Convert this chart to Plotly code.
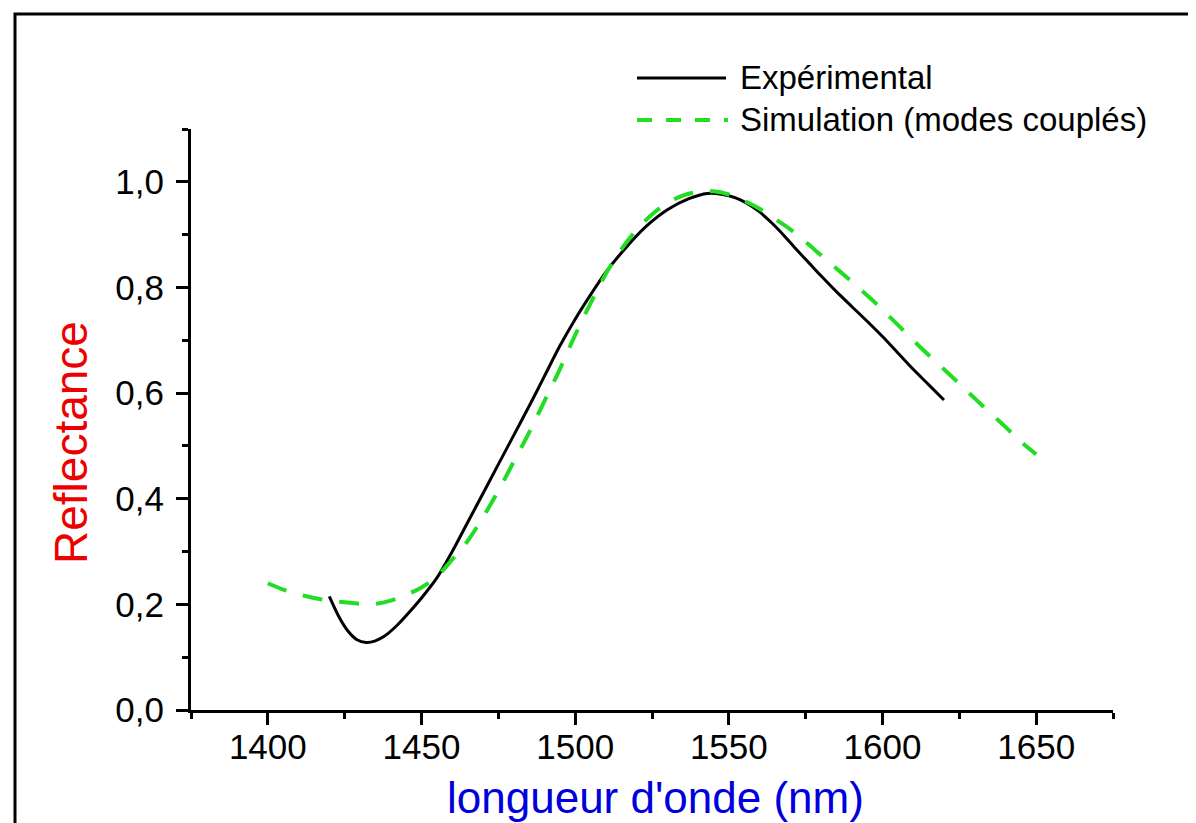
import plotly.graph_objects as go

# mesure expérimentale
exp_wl = [1420, 1423, 1426, 1429, 1432, 1435, 1438, 1442, 1446, 1450, 1455,
          1460, 1465, 1470, 1475, 1480, 1485, 1490, 1495, 1500, 1505, 1510,
          1516, 1523, 1530, 1537, 1543, 1548, 1552, 1556, 1560, 1564, 1568, 1572,
          1576, 1580, 1585, 1590, 1595, 1600, 1605, 1610, 1615, 1620]
exp_r = [0.215, 0.178, 0.150, 0.133, 0.128, 0.131, 0.140, 0.160, 0.185, 0.212, 0.250,
         0.30, 0.355, 0.41, 0.465, 0.52, 0.575, 0.632, 0.689, 0.74, 0.786, 0.829,
         0.872, 0.915, 0.947, 0.968, 0.978, 0.976, 0.970, 0.959, 0.943, 0.922, 0.898, 0.872,
         0.847, 0.822, 0.792, 0.764, 0.736, 0.707, 0.676, 0.645, 0.616, 0.587]

# simulation (modes couplés)
sim_wl = [1400, 1405, 1410, 1415, 1420, 1425, 1430, 1435, 1440, 1445, 1450, 1455,
          1460, 1465, 1470, 1475, 1480, 1485, 1490, 1495, 1500, 1505, 1510, 1515,
          1520, 1525, 1530, 1535, 1540, 1545, 1550, 1555, 1560, 1565, 1570, 1575,
          1580, 1585, 1590, 1595, 1600, 1605, 1610, 1615, 1620, 1625, 1630, 1635,
          1640, 1645, 1650]
sim_r = [0.240, 0.228, 0.219, 0.212, 0.207, 0.204, 0.201, 0.201, 0.207, 0.218, 0.232, 0.253,
         0.285, 0.32, 0.365, 0.415, 0.47, 0.525, 0.585, 0.645, 0.71, 0.77, 0.826, 0.872,
         0.909, 0.938, 0.96, 0.974, 0.981, 0.982, 0.976, 0.964, 0.949, 0.93, 0.91, 0.886,
         0.861, 0.836, 0.811, 0.785, 0.758, 0.729, 0.700, 0.672, 0.645, 0.618, 0.590, 0.563,
         0.536, 0.508, 0.484]

legend_labels = ["Expérimental", "Simulation (modes couplés)"]

W, H = 1196, 823
L, R, T, B = 183, 91, 121, 121
FONT = "Arial, 'Liberation Sans', sans-serif"
GREEN = "#22dd22"


def px(x):
    return (x - L) / (W - L - R)


def py(y):
    return (H - B - y) / (H - T - B)


fig = go.Figure()
fig.add_trace(go.Scatter(x=exp_wl, y=exp_r, mode="lines", name=legend_labels[0],
                         line=dict(color="black", width=3, shape="spline", smoothing=0.8)))
fig.add_trace(go.Scatter(x=sim_wl, y=sim_r, mode="lines", name=legend_labels[1],
                         line=dict(color=GREEN, width=4, dash="20px,17px", shape="spline")))

axis_common = dict(showline=True, linecolor="black", linewidth=3, showgrid=False,
                   zeroline=False, ticks="outside", tickcolor="black", tickwidth=3,
                   ticklen=12, tickfont=dict(family=FONT, size=35, color="black"))

fig.update_xaxes(range=[1375, 1675], dtick=50, tick0=0, ticklabelstandoff=-8,
                 minor=dict(dtick=25, ticks="outside", ticklen=6, tickwidth=3, tickcolor="black"),
                 **axis_common)
fig.update_yaxes(range=[0, 1.1], dtick=0.2, tick0=0, tickformat=".1f", ticklabelstandoff=5,
                 minor=dict(dtick=0.1, ticks="outside", ticklen=6, tickwidth=3, tickcolor="black"),
                 **axis_common)

shapes = [
    dict(type="rect", xref="paper", yref="paper", x0=px(7), x1=px(1191), y0=py(6), y1=py(840),
         line=dict(color="black", width=3)),
    dict(type="line", xref="paper", yref="paper", x0=px(629), x1=px(718), y0=py(70), y1=py(70),
         line=dict(color="black", width=3)),
    dict(type="line", xref="paper", yref="paper", x0=px(629), x1=px(720), y0=py(112), y1=py(112),
         line=dict(color=GREEN, width=4, dash="15px,14px")),
]

annotations = [
    dict(text=legend_labels[0], xref="paper", yref="paper", x=px(730), y=py(70),
         xanchor="left", yanchor="middle", showarrow=False,
         font=dict(family=FONT, size=33, color="black")),
    dict(text=legend_labels[1], xref="paper", yref="paper", x=px(730), y=py(112),
         xanchor="left", yanchor="middle", showarrow=False,
         font=dict(family=FONT, size=33, color="black")),
    dict(text="longueur d'onde (nm)", xref="paper", yref="paper", x=px(647), y=py(789),
         xanchor="center", yanchor="middle", showarrow=False,
         font=dict(family=FONT, size=44, color="#0000dd")),
    dict(text="Reflectance", xref="paper", yref="paper", x=px(63), y=py(435),
         xanchor="center", yanchor="middle", showarrow=False, textangle=-90,
         font=dict(family=FONT, size=46, color="#ee0000")),
]

fig.update_layout(
    width=W, height=H,
    margin=dict(l=L, r=R, t=T, b=B),
    paper_bgcolor="white", plot_bgcolor="white",
    separators=", ",
    showlegend=False,
    shapes=shapes,
    annotations=annotations,
)

fig.write_html("out.html")
